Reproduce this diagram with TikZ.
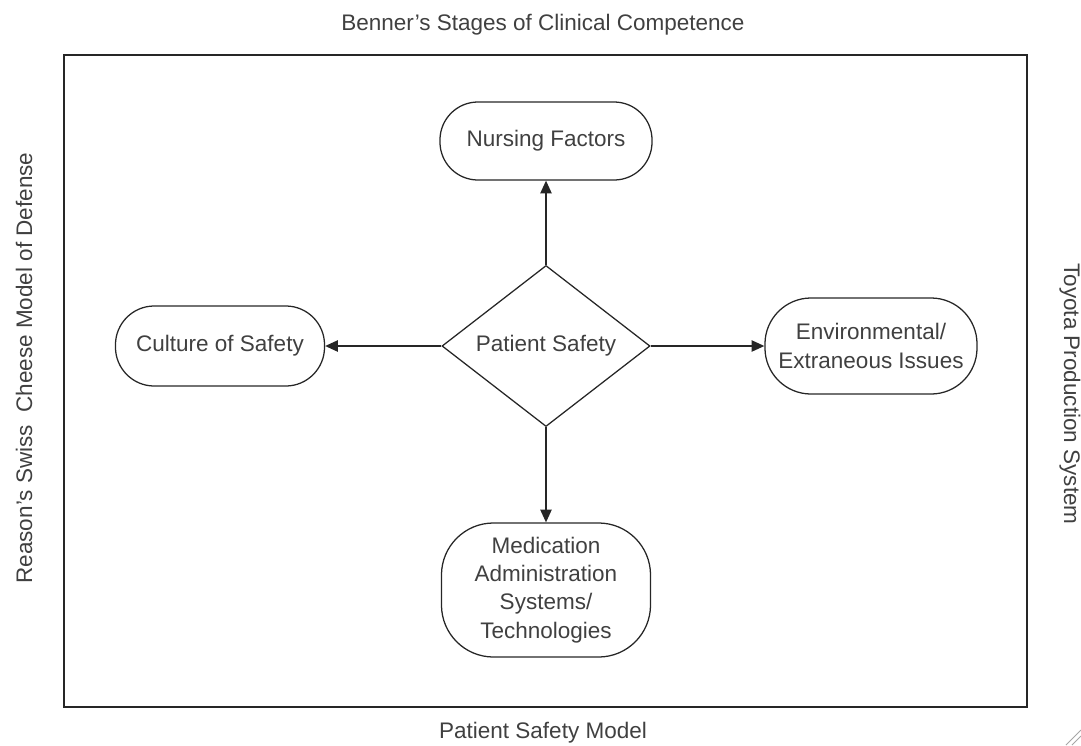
\documentclass[tikz,border=0pt]{standalone}
\usepackage{fontspec}
\setmainfont{Liberation Sans}
\usetikzlibrary{shapes.geometric,arrows.meta}

\begin{document}
\begin{tikzpicture}
[x=0.025cm,y=-0.025cm,
  lineDecorate/.style={-{Triangle[length=9pt,width=8pt]},line width=1pt,draw=black!85},%
  nodeDecorate/.style={shape=rectangle,rounded corners=0.85cm,draw=black!85,line width=0.9pt,
    align=center,text=black!75,inner sep=0pt},%
  choiceDecorate/.style={shape=diamond,draw=black!85,line width=0.9pt,text=black!75,
    inner sep=0pt,minimum width=5.2cm,minimum height=3.9cm},%
  titleDecorate/.style={text=black!75}]
\fontsize{16}{20}\selectfont
\useasboundingbox (0,0) rectangle (1081,745);
%% frame
\draw[line width=1.3pt,draw=black!85] (64,55) rectangle (1027,707);
%% titles round the frame
\node[titleDecorate] (top) at (543,25) {Benner’s Stages of Clinical Competence};
\node[titleDecorate] (bottom) at (543,733) {Patient Safety Model};
\node[titleDecorate,rotate=90] (left) at (24,368) {Reason’s Swiss\ \ Cheese Model of Defense};
\node[titleDecorate,rotate=-90] (right) at (1070,394) {Toyota Production System};
%% nodes or vertices
\node (ps) at (546,346) [choiceDecorate] {Patient Safety};
\foreach \nodename/\x/\y/\w/\h/\r/\txt in
  {nf/546/141/5.3/1.95/0.95/{Nursing Factors},
   cs/220/346/5.225/2.0/0.97/{Culture of Safety},
   ee/871/346/5.3/2.4/1.15/{Environmental/\\Extraneous Issues},
   ma/546/590/5.225/3.35/1.3/{Medication\\Administration\\Systems/\\Technologies}}
{
  \node (\nodename) at (\x,\y) [nodeDecorate,minimum width=\w cm,minimum height=\h cm,
    rounded corners=\r cm] {\txt};
}
%% edges or lines
\path
\foreach \startnode/\endnode in {ps/nf, ps/cs, ps/ee, ps/ma}
{
  (\startnode) edge[lineDecorate] (\endnode)
};
%% corner grip
\draw[black!35,line width=0.6pt] (1066,745) -- (1081,730) (1072,745) -- (1081,736);
\end{tikzpicture}
\end{document}
